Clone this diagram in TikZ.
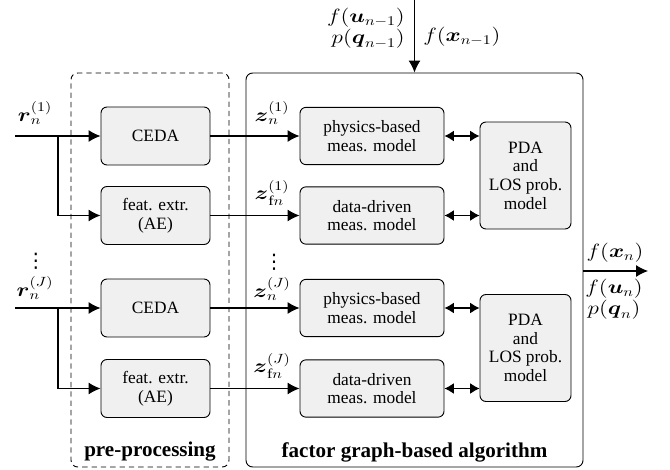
\documentclass[tikz,border=0pt]{standalone}
\usepackage{amsmath}
\usepackage{graphicx}
\usepackage{fontspec}
\setmainfont{Liberation Serif}
\newfontfamily\symfont{DejaVu Sans}
\usetikzlibrary{arrows.meta}
% math labels, set slightly wide
\newcommand{\ml}[1]{\scalebox{1.2}[1]{$#1$}}
% vertical ellipsis as a single glyph
\newcommand{\dotcol}{{\symfont\fontsize{15}{15}\selectfont ⋮}}
\begin{document}
\begin{tikzpicture}[x=0.75pt,y=-0.75pt,
  font=\fontsize{13}{14}\selectfont,
  blk/.style={draw, rounded corners=4.5pt, fill=black!6, line width=0.7pt,
    align=center, inner sep=1pt},
  prebox/.style={blk, minimum width=81.75pt, minimum height=43.5pt},
  modbox/.style={blk, minimum width=108pt, minimum height=43pt},
  pdabox/.style={blk, minimum width=68.25pt, minimum height=80.25pt},
  frame/.style={draw, rounded corners=5pt, line width=0.7pt, inner sep=0pt},
  conn/.style={line width=0.8pt, -{Latex[length=9pt,width=9pt]}},
  dconn/.style={line width=0.8pt, {Latex[length=7pt,width=8pt]}-{Latex[length=7pt,width=8pt]}},
  lbl/.style={inner sep=0pt, font=\fontsize{14.5}{13.5}\selectfont},
  caption/.style={inner sep=1pt, font=\fontsize{15.8}{17}\selectfont\bfseries}]
\useasboundingbox (0,0) rectangle (670,470);

% outer frames
\node[frame, dashed, dash pattern=on 4pt off 3pt, minimum width=118.5pt, minimum height=295.5pt] (pre) at (150,270) {};
\node[frame, minimum width=252.75pt, minimum height=295.5pt] (fg) at (414.5,270) {};

% pre-processing blocks
\node[prebox] (ceda1) at (155.5,136) {CEDA};
\node[prebox] (feat1) at (155.5,215.5) {feat. extr.\\(AE)};
\node[prebox] (cedaJ) at (155.5,308) {CEDA};
\node[prebox] (featJ) at (155.5,388.5) {feat. extr.\\(AE)};

% measurement models
\node[modbox] (phys1) at (372,136) {physics-based\\meas. model};
\node[modbox] (data1) at (372,215.5) {data-driven\\meas. model};
\node[modbox] (physJ) at (372,308) {physics-based\\meas. model};
\node[modbox] (dataJ) at (372,388.5) {data-driven\\meas. model};

% PDA blocks
\node[pdabox] (pda1) at (525.5,175.5) {PDA\\and\\LOS prob.\\model};
\node[pdabox] (pdaJ) at (525.5,348) {PDA\\and\\LOS prob.\\model};

% inputs
\coordinate (in1) at (15,136);
\coordinate (br1) at (58,136);
\coordinate (inJ) at (15,308);
\coordinate (brJ) at (58,308);
\draw[conn] (in1) -- (ceda1.west);
\draw[conn] (br1) |- (feat1.west);
\draw[conn] (inJ) -- (cedaJ.west);
\draw[conn] (brJ) |- (featJ.west);

\node[lbl] (r1) at (35,113) {\ml{\boldsymbol{r}_n^{(1)}}};
\node[lbl] (rdots) at (36,261) {\dotcol};
\node[lbl] (rJ) at (35,288) {\ml{\boldsymbol{r}_n^{(J)}}};

% pre-processing to models
\draw[conn] (ceda1.east) -- (phys1.west);
\draw[conn] (feat1.east) -- (data1.west);
\draw[conn] (cedaJ.east) -- (physJ.west);
\draw[conn] (featJ.east) -- (dataJ.west);

\node[lbl] (z1) at (272,113) {\ml{\boldsymbol{z}_n^{(1)}}};
\node[lbl] (zf1) at (272,193) {\ml{\boldsymbol{z}_{\mathrm{f}n}^{(1)}}};
\node[lbl] (zdots) at (274,262) {\dotcol};
\node[lbl] (zJ) at (272,289) {\ml{\boldsymbol{z}_n^{(J)}}};
\node[lbl] (zfJ) at (272,366) {\ml{\boldsymbol{z}_{\mathrm{f}n}^{(J)}}};

% models to PDA
\draw[dconn] (phys1.east) -- (phys1.east -| pda1.west);
\draw[dconn] (data1.east) -- (data1.east -| pda1.west);
\draw[dconn] (physJ.east) -- (physJ.east -| pdaJ.west);
\draw[dconn] (dataJ.east) -- (dataJ.east -| pdaJ.west);

% prior input
\coordinate (top) at (414.5,0);
\draw[conn] (top) -- (fg.north);
\node[lbl, anchor=east, align=right] (prior) at (405,28.5)
  {\ml{f(\boldsymbol{u}_{n-1})}\\\ml{p(\boldsymbol{q}_{n-1})}};
\node[lbl, anchor=west] (px) at (423,37) {\ml{f(\boldsymbol{x}_{n-1})}};

% output
\coordinate (out) at (648,271);
\draw[conn] (fg.east |- out) -- (out);
\node[lbl] (fx) at (615,253) {\ml{f(\boldsymbol{x}_n)}};
\node[lbl, align=center] (post) at (614,299)
  {\ml{f(\boldsymbol{u}_n)}\\\ml{p(\boldsymbol{q}_n)}};

% captions
\node[caption] (cpre) at (150,452) {pre-processing};
\node[caption] (cfg) at (414.5,452) {factor graph-based algorithm};
\end{tikzpicture}
\end{document}
